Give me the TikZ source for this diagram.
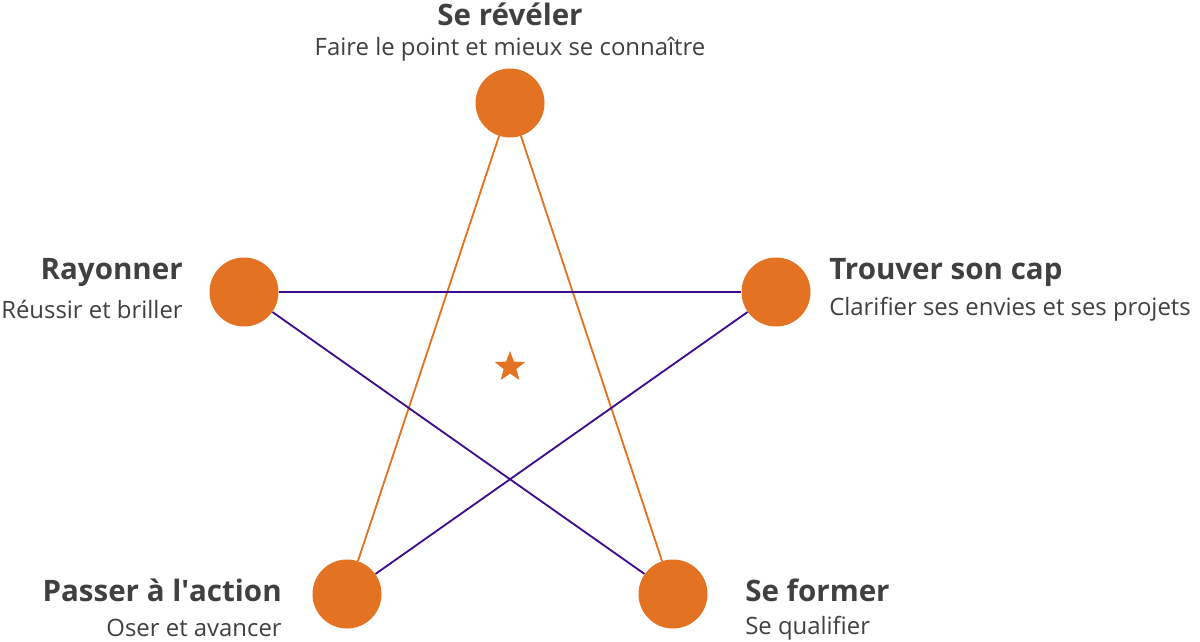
\documentclass[tikz,border=0pt]{standalone}
\usepackage{fontspec}
\setmainfont{Open Sans}
\usetikzlibrary{shapes.geometric}
\definecolor{org}{HTML}{E37222}
\definecolor{pur}{HTML}{3C0C8C}
\definecolor{txt}{HTML}{404040}
\begin{document}
\begin{tikzpicture}[x=0.025cm,y=-0.025cm,
  dot/.style={circle,fill=org,minimum size=69*0.025cm,inner sep=0},
  ttl/.style={text=txt,font=\fontsize{21}{24}\selectfont\bfseries,inner sep=0},
  sub/.style={text=txt,font=\fontsize{17}{20}\selectfont,inner sep=0},
  ol/.style={org,line width=1.3pt},
  pl/.style={pur,line width=1.3pt}]
\useasboundingbox (0,0) rectangle (1200,642);
\node[dot] (t) at (510,103) {};
\node[dot] (l) at (244,292) {};
\node[dot] (r) at (776,292) {};
\node[dot] (bl) at (347,594) {};
\node[dot] (br) at (673,594) {};
\draw[ol] (t) -- (bl); \draw[ol] (t) -- (br);
\draw[pl] (l) -- (r); \draw[pl] (l) -- (br); \draw[pl] (r) -- (bl);
\node[star,star points=5,star point ratio=2.4,fill=org,minimum size=32*0.025cm,inner sep=0] (s) at (510,367) {};
\node[ttl] (tt) at (510,14) {Se révéler};
\node[sub] (ts) at (510,49) {Faire le point et mieux se connaître};
\node[ttl,anchor=east] (lt) at (183,273) {Rayonner};
\node[sub,anchor=east] (ls) at (183,309) {Réussir et briller};
\node[ttl,anchor=west] (rt) at (829,273) {Trouver son cap};
\node[sub,anchor=west] (rs) at (829,309) {Clarifier ses envies et ses projets};
\node[ttl,anchor=east] (blt) at (282,590) {Passer à l\textquotesingle action};
\node[sub,anchor=east] (bls) at (282,628) {Oser et avancer};
\node[ttl,anchor=west] (brt) at (745,590) {Se former};
\node[sub,anchor=west] (brs) at (745,628) {Se qualifier};
\end{tikzpicture}
\end{document}
